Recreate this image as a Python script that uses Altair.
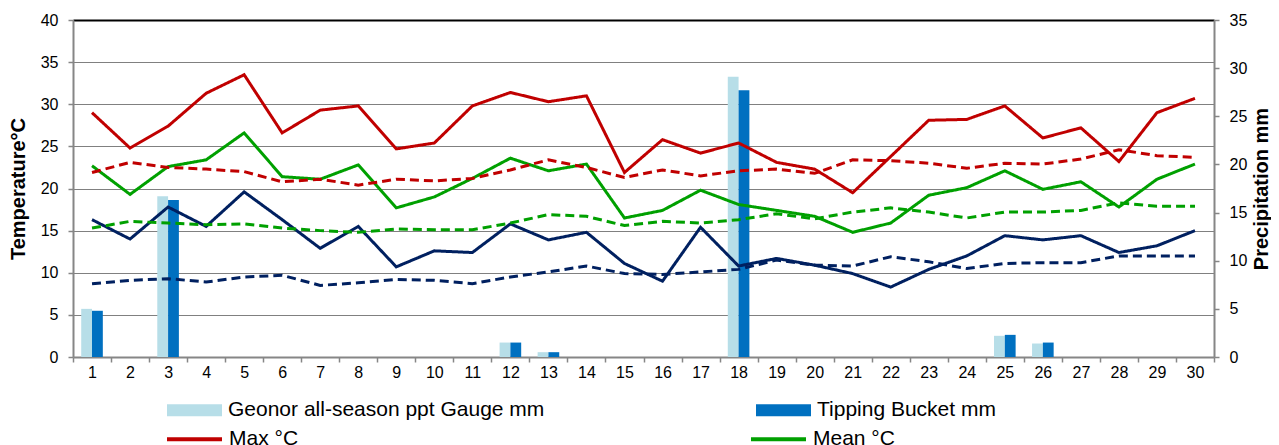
import altair as alt
import pandas as pd

FONT = "Liberation Sans"

days = list(range(1, 31))

max_t = [29.0, 24.8, 27.4, 31.3, 33.5, 26.6, 29.3, 29.8, 24.7, 25.4,
         29.8, 31.4, 30.3, 31.0, 21.9, 25.8, 24.2, 25.4, 23.1, 22.3,
         19.5, 23.8, 28.1, 28.2, 29.8, 26.0, 27.2, 23.2, 29.0, 30.7]
max_norm = [21.9, 23.1, 22.5, 22.3, 22.0, 20.8, 21.1, 20.4, 21.1, 20.9,
            21.2, 22.2, 23.4, 22.5, 21.3, 22.2, 21.5, 22.1, 22.3, 21.8,
            23.4, 23.3, 23.0, 22.4, 23.0, 22.9, 23.5, 24.6, 23.9, 23.7]
mean_t = [22.7, 19.3, 22.6, 23.4, 26.6, 21.4, 21.1, 22.8, 17.7, 19.0,
          21.2, 23.6, 22.1, 22.9, 16.5, 17.4, 19.8, 18.1, 17.4, 16.7,
          14.8, 15.9, 19.2, 20.1, 22.1, 19.9, 20.8, 17.8, 21.1, 22.9]
mean_norm = [15.3, 16.1, 15.9, 15.7, 15.8, 15.3, 15.0, 14.8, 15.2, 15.1,
             15.1, 15.9, 16.9, 16.7, 15.6, 16.1, 15.9, 16.3, 17.0, 16.4,
             17.2, 17.7, 17.2, 16.5, 17.2, 17.2, 17.4, 18.3, 17.9, 17.9]
min_t = [16.3, 14.0, 17.8, 15.5, 19.6, 16.3, 12.9, 15.5, 10.7, 12.6,
         12.4, 15.8, 13.9, 14.8, 11.1, 9.0, 15.4, 10.8, 11.7, 10.9,
         9.9, 8.3, 10.4, 12.0, 14.4, 13.9, 14.4, 12.4, 13.2, 15.0]
min_norm = [8.7, 9.1, 9.3, 8.9, 9.5, 9.7, 8.5, 8.8, 9.2, 9.1,
            8.7, 9.5, 10.1, 10.8, 9.9, 9.8, 10.1, 10.4, 11.5, 10.9,
            10.8, 11.9, 11.3, 10.5, 11.1, 11.2, 11.2, 12.0, 12.0, 12.0]

geonor = [5.0, 0, 16.7, 0, 0, 0, 0, 0, 0, 0,
          0, 1.5, 0.5, 0, 0, 0, 0, 29.1, 0, 0,
          0, 0, 0, 0, 2.2, 1.4, 0, 0, 0, 0]
tipping = [4.8, 0, 16.3, 0, 0, 0, 0, 0, 0, 0,
           0, 1.5, 0.5, 0, 0, 0, 0, 27.7, 0, 0,
           0, 0, 0, 0, 2.3, 1.5, 0, 0, 0, 0]

gauges = ["Geonor all-season ppt Gauge mm", "Tipping Bucket mm"]
gauge_colors = ["#B7DEE8", "#0070C0"]

series = ["Max °C", "Mean °C", "Min °C",
          "Normal Max °C", "Normal Mean °C", "Normal Min °C"]
series_colors = ["#C00000", "#00A000", "#002060",
                 "#C00000", "#00A000", "#002060"]
series_dash = [[1, 0], [1, 0], [1, 0], [9, 5], [9, 5], [9, 5]]

temp_rows = []
for name, vals in zip(series, [max_t, mean_t, min_t, max_norm, mean_norm, min_norm]):
    for d, v in zip(days, vals):
        temp_rows.append({"day": d, "temp": v, "series": name})
temp_df = pd.DataFrame(temp_rows)

precip_rows = []
for name, vals in zip(gauges, [geonor, tipping]):
    for d, v in zip(days, vals):
        precip_rows.append({"day": d, "mm": v, "gauge": name})
precip_df = pd.DataFrame(precip_rows)

GREY = "#868686"

x_enc = alt.X(
    "day:O",
    scale=alt.Scale(domain=days, paddingInner=0, paddingOuter=0),
    axis=alt.Axis(
        title=None, labelAngle=0, tickBand="extent", tickSize=5,
        tickColor=GREY, tickWidth=1.5, domainColor=GREY, domainWidth=2,
        labelFontSize=16, labelPadding=2, grid=False,
    ),
)

bars = alt.Chart(precip_df).mark_bar().encode(
    x=x_enc,
    xOffset=alt.XOffset(
        "gauge:N",
        scale=alt.Scale(domain=gauges, paddingInner=0, paddingOuter=0.76),
    ),
    y=alt.Y(
        "mm:Q",
        scale=alt.Scale(domain=[0, 35], nice=False),
        axis=alt.Axis(
            orient="right", values=list(range(0, 36, 5)), title="Precipitation mm",
            grid=False, titleAngle=270, titlePadding=25, tickSize=5,
            tickColor=GREY, tickWidth=1.5, domainColor=GREY, domainWidth=2,
            labelFontSize=16, labelPadding=10, titleFontSize=20, titleFontWeight="bold",
        ),
    ),
    fill=alt.Fill(
        "gauge:N",
        scale=alt.Scale(domain=gauges, range=gauge_colors),
        legend=alt.Legend(
            title=None, orient="none", legendX=94, legendY=362.5,
            direction="horizontal", columns=2, columnPadding=211, gridAlign="all",
            symbolType="M-1,-0.22H1V0.22H-1Z", symbolSize=3025, symbolStrokeWidth=0,
            labelOffset=6, labelLimit=400, padding=0,
        ),
    ),
)

lines = alt.Chart(temp_df).mark_line(strokeWidth=3).encode(
    x=x_enc,
    y=alt.Y(
        "temp:Q",
        scale=alt.Scale(domain=[0, 40], nice=False),
        axis=alt.Axis(
            orient="left", values=list(range(0, 41, 5)), title="Temperature°C",
            grid=True, gridColor="#000",
            gridDash={"condition": {"test": "datum.value === 40", "value": [1, 0]}, "value": [1, 1]},
            gridWidth={"condition": {"test": "datum.value === 40", "value": 2}, "value": 1},
            gridOpacity={"condition": {"test": "datum.value === 0", "value": 0}, "value": 1},
            tickSize=5, tickColor=GREY, tickWidth=1.5, domainColor=GREY, domainWidth=2,
            labelFontSize=16, labelPadding=10, titleFontSize=20, titleFontWeight="bold",
            titlePadding=12,
        ),
    ),
    stroke=alt.Stroke(
        "series:N",
        scale=alt.Scale(domain=series, range=series_colors),
        legend=alt.Legend(
            title=None, orient="none", legendX=92, legendY=389.5,
            direction="horizontal", columns=2, columnPadding=358, gridAlign="all",
            symbolType="stroke", symbolSize=3025, symbolStrokeWidth=4,
            labelOffset=5, labelLimit=400, padding=0,
        ),
    ),
    strokeDash=alt.StrokeDash(
        "series:N",
        scale=alt.Scale(domain=series, range=series_dash),
        legend=None,
    ),
    order=alt.Order("day:Q"),
)

chart = (
    alt.layer(bars, lines)
    .resolve_scale(y="independent")
    .properties(
        width=1141, height=337,
        autosize=alt.AutoSizeParams(type="none"),
        padding={"left": 65, "top": 12, "right": 57, "bottom": 88},
    )
    .configure_view(stroke=None)
    .configure_axis(labelFont=FONT, titleFont=FONT, labelColor="#000", titleColor="#000")
    .configure_legend(labelFont=FONT, labelFontSize=21, labelColor="#000")
)

chart.save("out.html", embed_options={"renderer": "svg", "actions": False})
